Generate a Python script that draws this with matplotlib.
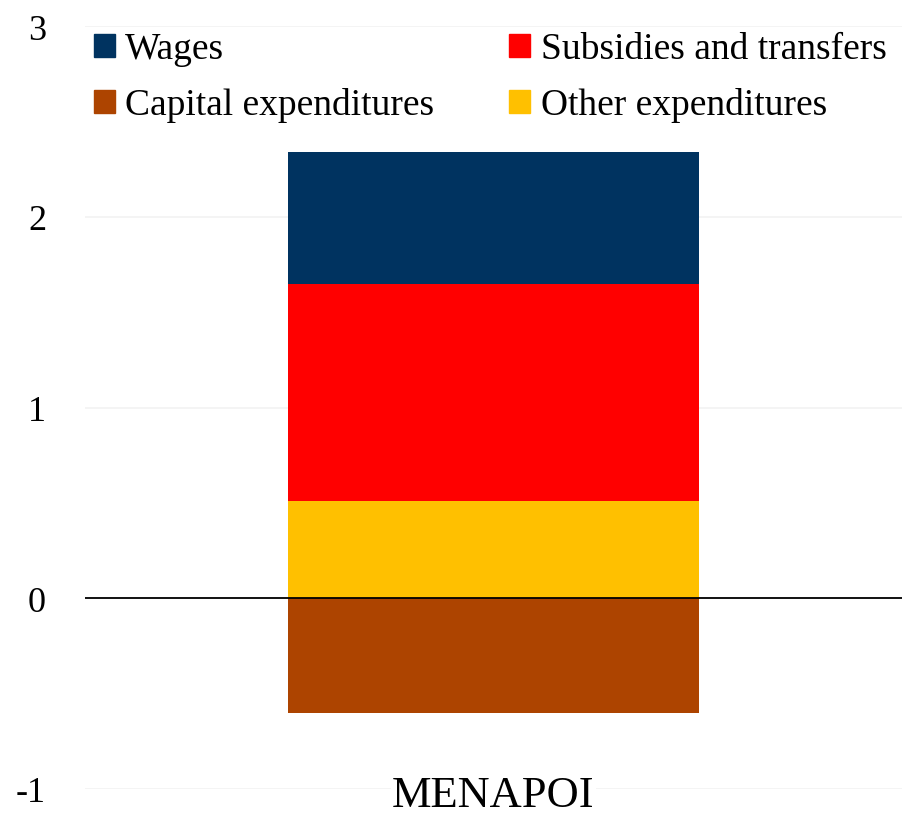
import matplotlib.pyplot as plt
from matplotlib.patches import Patch

# data
category = ['MENAPOI']
other_exp = [0.51]
subsidies = [1.14]
wages = [0.69]
capital_exp = [-0.60]

colors = {
    'Wages': '#003360',
    'Subsidies and transfers': '#ff0000',
    'Capital expenditures': '#ad4400',
    'Other expenditures': '#ffc000',
}

plt.rcParams['font.family'] = ['Liberation Serif', 'DejaVu Serif']

fig = plt.figure(figsize=(9.02, 8.28), dpi=100)
ax = fig.add_axes([85 / 902, (828 - 790) / 828, 1 - 85 / 902, (790 - 27) / 828])

x = range(len(category))
w = 0.504
ax.bar(x, other_exp, w, color=colors['Other expenditures'], zorder=2)
bottom2 = [a for a in other_exp]
ax.bar(x, subsidies, w, bottom=bottom2, color=colors['Subsidies and transfers'], zorder=2)
bottom3 = [a + b for a, b in zip(other_exp, subsidies)]
ax.bar(x, wages, w, bottom=bottom3, color=colors['Wages'], zorder=2)
ax.bar(x, capital_exp, w, color=colors['Capital expenditures'], zorder=2)

ax.set_xlim(-0.5, 0.5)
ax.set_ylim(-1, 3)
ax.set_yticks([-1, 0, 1, 2, 3])
ax.set_yticklabels(['-1', '0', '1', '2', '3'])
ax.set_xticks(list(x))
ax.set_xticklabels(category)
ax.grid(axis='y', color='#f2f2f2', linewidth=1.2, zorder=0)
ax.axhline(0, color='black', linewidth=1.3, zorder=3)
for s in ax.spines.values():
    s.set_visible(False)
ax.tick_params(axis='y', length=0, labelsize=26, colors='black', pad=28)
ax.tick_params(axis='x', length=0, labelsize=32, colors='black', pad=-10)
ax.xaxis.set_zorder(4)  # label box must sit over the y gridline at -1
for lbl in ax.get_xticklabels():
    lbl.set_bbox(dict(facecolor='white', edgecolor='none', pad=1))

order = ['Wages', 'Capital expenditures', 'Subsidies and transfers', 'Other expenditures']
handles = [Patch(color=colors[k]) for k in order]
ax.legend(handles, order, ncol=2, loc='upper left', bbox_to_anchor=(0.002, 1.002),
          frameon=False, fontsize=27, handlelength=0.56, handleheight=0.56,
          handletextpad=0.27, columnspacing=2.0, labelspacing=0.56,
          borderpad=0.2, borderaxespad=0)

fig.savefig('out.png', dpi=100)
